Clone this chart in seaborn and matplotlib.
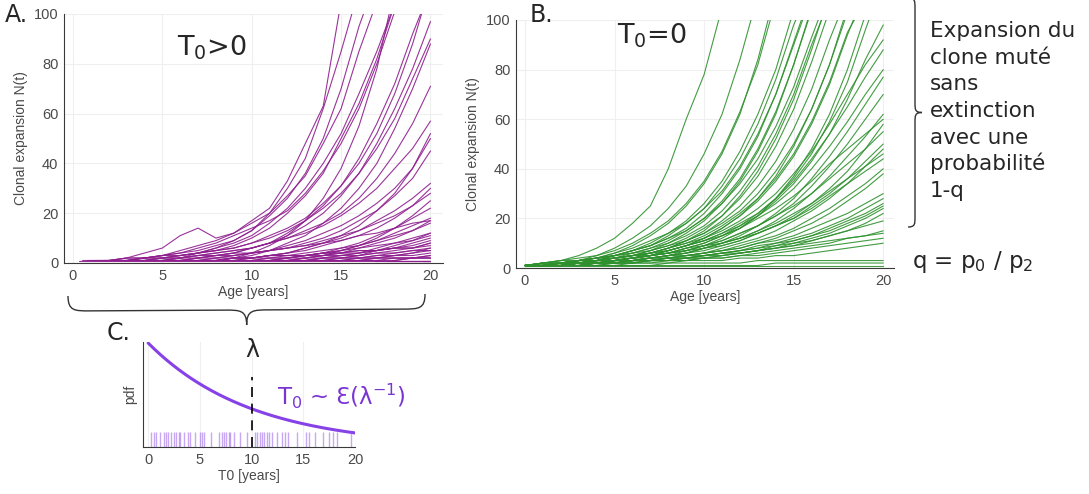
import numpy as np
import pandas as pd
import matplotlib
matplotlib.use("Agg")
import matplotlib.pyplot as plt
import seaborn as sns
from matplotlib.path import Path
from matplotlib.patches import PathPatch

# ---------------- data ----------------
# Panel A: mutation onset times T0 (years) and clone sizes at whole years after onset
a_t0 = [0.32, 0.54, 0.80, 1.12, 1.57, 1.76, 1.96, 2.21, 2.47, 2.73,
        2.95, 3.11, 3.43, 3.82, 4.08, 4.56, 5.04, 5.20, 5.43, 6.07,
        6.84, 7.10, 7.29, 7.55, 7.77, 7.94, 8.32, 8.90, 9.54, 10.35,
        10.57, 10.83, 10.99, 11.20, 11.47, 11.73, 11.95, 12.44, 12.92, 13.24,
        13.56, 14.37, 15.27, 15.59, 16.13, 16.87, 17.52, 17.90, 18.22, 19.60]

a_paths = [
    [1] * 20,
    [1, 1, 1, 2, 2, 3, 4, 5, 7, 10, 14, 20, 27, 36, 50, 64, 82, 104],
    [1, 1, 2, 2, 3, 4, 6, 8, 11, 14, 17, 21, 28, 37, 48, 62, 80, 101],
    [1, 2, 4, 6, 11, 14, 10, 12, 16, 20, 30, 42, 62, 85, 110],
    [1, 1, 2, 3, 4, 5, 7, 9, 13, 20, 27, 35, 48, 62, 85, 105],
    [1, 2, 2, 3, 3, 4, 5, 6, 8, 10, 13, 17, 22, 28, 36, 46, 58, 74, 90],
    [1, 1, 1, 2, 2, 3, 4, 5, 6, 8, 10, 12, 15, 19, 24, 30, 38, 46, 57],
    [1, 2, 3, 5, 7, 9, 12, 17, 22, 33, 48, 63, 105],
    [1, 1, 2, 2, 3, 3, 4, 4, 5, 6, 7, 8, 9, 11, 12, 14, 16, 17],
    [1, 2, 2, 3, 4, 5, 6, 8, 11, 14, 18, 24, 31, 40, 52, 68, 88, 112],
    [1, 1, 1, 2, 2, 3, 3, 4, 5, 6, 7, 9, 11, 13, 16, 19, 23, 28],
    [1, 2, 3, 4, 6, 8, 11, 16, 22, 30, 40, 52, 68, 85, 104],
    [1, 1, 2, 3, 4, 5, 6, 8, 10, 13, 16, 20, 26, 34, 44, 56, 71],
    [1, 1, 1, 1, 2, 2, 2, 3, 3, 3, 4, 4, 5, 5, 6, 6, 7],
    [1, 2, 4, 6, 9, 13, 19, 26, 36, 50, 70, 95, 115],
    [1, 1, 2, 2, 3, 4, 5, 6, 8, 10, 13, 17, 21, 27, 34, 45],
    [1, 2, 3, 4, 6, 8, 11, 15, 20, 27, 36, 48, 62, 78, 97],
    [1, 1, 1, 2, 2, 2, 3, 3, 4, 4, 5, 5, 6, 6, 8],
    [1, 2, 3, 4, 6, 8, 12, 17, 23, 31, 42, 56, 72, 92, 110],
    [1, 2, 3, 4, 5, 7, 9, 12, 15, 19, 24, 30, 38, 50],
    [1, 1, 2, 2, 3, 3, 4, 5, 6, 7, 9, 11, 13, 16],
    [1, 2, 3, 5, 8, 11, 16, 22, 30, 40, 54, 70, 88],
    [1, 2, 4, 7, 11, 17, 26, 38, 55, 78, 110],
    [1, 1, 1, 2, 2, 3, 3, 4, 4, 5, 6, 7, 9],
    [1, 1, 2, 3, 4, 5, 7, 9, 11, 14, 18, 23, 30],
    [1, 2, 2, 3, 4, 6, 8, 10, 13, 17, 21, 26, 32],
    [1, 1, 2, 2, 3, 4, 5, 6, 7, 8, 10, 12],
    [1, 2, 3, 4, 6, 8, 11, 15, 21, 28, 38, 52],
    [1, 1, 2, 2, 3, 3, 4, 5, 6, 8, 10],
    [1, 2, 3, 4, 6, 8, 11, 14, 18, 22],
    [1, 1, 2, 2, 3, 3, 4, 4, 5, 5],
    [1, 2, 3, 4, 5, 7, 9, 12, 15, 18],
    [1, 1, 1, 2, 2, 2, 3, 3, 3, 4],
    [1, 2, 3, 4, 6, 8, 10, 13, 17],
    [1, 1, 2, 2, 3, 4, 5, 6, 8],
    [1, 2, 3, 5, 7, 10, 14, 19, 25],
    [1, 1, 1, 1, 2, 2, 2, 2, 3],
    [1, 2, 3, 4, 6, 8, 9, 11],
    [1, 1, 2, 2, 3, 4, 5, 6],
    [1, 2, 3, 5, 7, 9, 12],
    [1, 1, 1, 2, 2, 2, 2],
    [1, 2, 2, 3, 4, 5],
    [1, 1, 2, 2, 3],
    [1, 2, 3, 4, 6],
    [1, 1, 2, 2],
    [1, 1, 1, 1],
    [1, 1, 1],
    [1, 2, 2],
    [1, 1],
    [1],
]

# Panel B: clones all founded at T0 = 0, sizes at years 1..20
b_paths = [
    [2, 3, 5, 8, 12, 18, 25, 40, 60, 78, 105],
    [1, 2, 3, 5, 8, 12, 17, 24, 33, 46, 62, 84, 110],
    [1, 2, 3, 4, 6, 9, 13, 18, 25, 34, 46, 62, 84, 112],
    [2, 3, 4, 5, 7, 10, 14, 19, 26, 35, 47, 63, 82, 108],
    [1, 1, 2, 3, 5, 7, 10, 14, 19, 26, 35, 47, 62, 80, 104],
    [1, 2, 3, 4, 5, 7, 9, 13, 18, 24, 33, 44, 58, 76, 98, 115],
    [1, 2, 2, 3, 5, 7, 9, 12, 16, 22, 30, 40, 53, 70, 91, 112],
    [2, 2, 3, 4, 6, 8, 11, 14, 18, 24, 31, 41, 54, 70, 90, 110],
    [1, 1, 2, 3, 4, 5, 7, 10, 14, 19, 26, 35, 47, 62, 82, 104],
    [1, 2, 3, 4, 5, 6, 8, 11, 15, 20, 27, 36, 48, 63, 82, 105],
    [1, 2, 2, 3, 4, 6, 8, 10, 13, 17, 23, 31, 41, 54, 70, 90, 108],
    [1, 1, 2, 2, 3, 4, 6, 8, 11, 15, 21, 29, 39, 52, 68, 88, 110],
    [2, 3, 3, 4, 5, 7, 9, 12, 15, 20, 26, 34, 44, 57, 73, 93, 112],
    [1, 2, 3, 3, 4, 5, 7, 9, 12, 16, 21, 28, 37, 49, 64, 83, 104],
    [1, 1, 2, 3, 3, 4, 5, 7, 9, 12, 16, 21, 28, 37, 49, 64, 82, 105],
    [1, 2, 2, 3, 4, 5, 6, 8, 11, 14, 19, 25, 33, 43, 56, 72, 92, 110],
    [1, 2, 3, 4, 5, 6, 7, 9, 11, 14, 18, 23, 30, 39, 50, 64, 82, 103],
    [1, 1, 2, 2, 3, 4, 5, 7, 9, 12, 16, 21, 27, 35, 45, 58, 74, 94, 112],
    [2, 2, 3, 4, 4, 5, 6, 8, 10, 13, 17, 22, 28, 36, 46, 59, 75, 95, 108],
    [1, 1, 1, 2, 2, 3, 4, 5, 7, 9, 12, 16, 21, 28, 37, 48, 62, 80, 102],
    [1, 2, 2, 3, 3, 4, 5, 6, 8, 10, 13, 17, 22, 28, 36, 46, 59, 75, 96, 116],
    [1, 1, 2, 2, 3, 4, 5, 6, 8, 10, 13, 16, 21, 27, 34, 43, 54, 68, 84, 98],
    [1, 2, 2, 3, 4, 5, 6, 8, 10, 12, 15, 19, 24, 30, 38, 47, 58, 70, 82, 92],
    [1, 1, 2, 3, 3, 4, 5, 7, 9, 11, 14, 18, 22, 28, 35, 44, 54, 65, 77, 88],
    [2, 2, 3, 3, 4, 5, 6, 7, 9, 11, 14, 17, 21, 26, 32, 40, 49, 59, 70, 80],
    [1, 1, 1, 2, 2, 3, 4, 5, 6, 8, 10, 13, 17, 22, 28, 36, 45, 55, 66, 77],
    [1, 2, 2, 3, 3, 4, 5, 6, 7, 9, 11, 14, 17, 21, 26, 33, 41, 50, 60, 70],
    [1, 1, 2, 2, 3, 3, 4, 5, 6, 8, 10, 12, 15, 19, 24, 30, 37, 45, 53, 62],
    [1, 2, 3, 3, 4, 5, 6, 7, 9, 11, 13, 16, 20, 24, 29, 35, 42, 48, 54, 60],
    [1, 1, 2, 2, 2, 3, 4, 5, 6, 7, 9, 11, 14, 17, 21, 26, 32, 39, 48, 58],
    [1, 2, 2, 3, 4, 4, 5, 6, 8, 9, 11, 14, 17, 21, 25, 30, 36, 42, 48, 55],
    [1, 1, 2, 2, 3, 4, 4, 5, 6, 8, 9, 11, 14, 17, 20, 25, 30, 36, 43, 50],
    [1, 1, 1, 2, 2, 3, 3, 4, 5, 6, 8, 10, 12, 15, 19, 23, 28, 34, 41, 48],
    [2, 2, 3, 3, 4, 5, 5, 6, 7, 9, 10, 12, 15, 18, 22, 26, 31, 36, 41, 46],
    [1, 2, 2, 3, 3, 4, 5, 6, 7, 8, 10, 12, 14, 17, 20, 24, 29, 34, 39, 44],
    [1, 1, 2, 2, 3, 3, 4, 4, 5, 6, 7, 9, 11, 13, 16, 20, 24, 29, 34, 40],
    [1, 1, 1, 2, 2, 3, 3, 4, 5, 6, 7, 8, 10, 12, 15, 18, 22, 27, 32, 38],
    [1, 2, 2, 3, 3, 3, 4, 5, 5, 6, 7, 8, 10, 11, 13, 16, 19, 22, 26, 30],
    [1, 1, 2, 2, 2, 3, 3, 4, 4, 5, 6, 7, 9, 10, 12, 14, 17, 20, 24, 28],
    [1, 1, 1, 1, 2, 2, 3, 3, 4, 5, 6, 7, 8, 10, 11, 13, 16, 19, 22, 26],
    [1, 2, 2, 2, 3, 3, 4, 4, 5, 5, 6, 7, 8, 9, 11, 13, 15, 18, 21, 25],
    [1, 1, 2, 2, 3, 3, 3, 4, 4, 5, 6, 6, 7, 9, 10, 12, 14, 17, 20, 24],
    [1, 1, 1, 2, 2, 2, 3, 3, 4, 4, 5, 6, 7, 8, 9, 11, 13, 15, 18, 22],
    [1, 1, 2, 2, 2, 3, 3, 3, 4, 4, 5, 6, 7, 8, 10, 11, 13, 15, 17, 19],
    [1, 1, 1, 1, 2, 2, 2, 3, 3, 4, 4, 5, 6, 7, 8, 9, 10, 12, 13, 15],
    [1, 2, 2, 2, 3, 3, 3, 4, 4, 5, 5, 6, 7, 8, 9, 10, 11, 12, 13, 14],
    [1, 1, 1, 2, 2, 2, 3, 3, 3, 4, 4, 5, 5, 6, 7, 8, 9, 10, 11, 12],
    [1, 1, 1, 1, 1, 2, 2, 2, 3, 3, 3, 4, 4, 5, 5, 6, 7, 8, 9, 10],
    [1, 1, 1, 1, 1, 1, 1, 2, 2, 2, 2, 2, 3, 3, 3, 3, 3, 3, 3, 3],
    [1, 1, 1, 1, 1, 1, 1, 1, 1, 1, 1, 1, 1, 2, 2, 2, 2, 2, 2, 2],
    [1, 1, 1, 1, 1, 1, 1, 1, 1, 1, 1, 1, 1, 1, 1, 1, 1, 1, 1, 1],
]

# Panel C: exponential law of the onset time, mean lambda (years)
lam = 10.0
age_ticks = [0, 5, 10, 15, 20]
n_ticks = [0, 20, 40, 60, 80, 100]

# ---------------- helpers ----------------
def a_frame():
    rows = []
    for k, (t0, vals) in enumerate(zip(a_t0, a_paths)):
        first = int(np.ceil(t0))
        ts = [t0] + list(range(first, first + len(vals)))
        ns = [1] + list(vals)
        rows += [(k, t, n) for t, n in zip(ts, ns)]
    return pd.DataFrame(rows, columns=["path", "age", "n"])


def b_frame():
    rows = []
    for k, vals in enumerate(b_paths):
        ts = list(range(0, len(vals) + 1))
        ns = [1] + list(vals)
        rows += [(k, t, n) for t, n in zip(ts, ns)]
    return pd.DataFrame(rows, columns=["path", "age", "n"])


W, H = 1089, 494


def fx(x):
    return x / W


def fy(y):
    return 1 - y / H


def brace(fig, p0, p1, w, r, color="#333333", lw=1.0):
    """Curly brace from p0 to p1 (pixels); the tip sits w pixels off the chord."""
    p0 = np.array(p0, float)
    p1 = np.array(p1, float)
    d = p1 - p0
    L = np.hypot(*d)
    u = d / L
    v = np.array([u[1], -u[0]])
    h = L / 2

    def P(a, b):
        q = p0 + a * u + b * v
        return (fx(q[0]), fy(q[1]))

    verts = [P(0, 0),
             P(0, w / 2), P(r * 0.3, w / 2), P(r, w / 2),
             P(h - r, w / 2),
             P(h - r * 0.3, w / 2), P(h, w / 2), P(h, w),
             P(h, w / 2), P(h + r * 0.3, w / 2), P(h + r, w / 2),
             P(L - r, w / 2),
             P(L - r * 0.3, w / 2), P(L, w / 2), P(L, 0)]
    codes = ([Path.MOVETO] + [Path.CURVE4] * 3 + [Path.LINETO] +
             [Path.CURVE4] * 3 + [Path.CURVE4] * 3 + [Path.LINETO] +
             [Path.CURVE4] * 3)
    patch = PathPatch(Path(verts, codes), fill=False, edgecolor=color,
                      lw=lw, transform=fig.transFigure, clip_on=False)
    fig.patches.append(patch)


# ---------------- style ----------------
sns.set_theme(style="whitegrid", rc={
    "grid.color": "#efefef",
    "grid.linewidth": 0.8,
    "axes.edgecolor": "#3a3a3a",
    "axes.linewidth": 0.8,
    "xtick.color": "#3a3a3a",
    "ytick.color": "#3a3a3a",
    "xtick.labelcolor": "#4a4a4a",
    "ytick.labelcolor": "#4a4a4a",
    "axes.labelcolor": "#4a4a4a",
})
plt.rcParams["font.family"] = ["DejaVu Sans"]
axis_font = "Liberation Sans"

fig = plt.figure(figsize=(W / 100, H / 100), dpi=100)


def style_axis(ax, xlim, ylim, xticks, yticks, xlabel, ylabel, tick_fs=10.5, label_fs=10):
    ax.set_xlim(*xlim)
    ax.set_ylim(*ylim)
    ax.set_xticks(xticks)
    ax.set_yticks(yticks)
    for s in ("top", "right"):
        ax.spines[s].set_visible(False)
    ax.tick_params(direction="in", length=4, width=0.8, pad=4,
                   labelsize=tick_fs)
    for lab in ax.get_xticklabels() + ax.get_yticklabels():
        lab.set_fontfamily(axis_font)
    ax.set_xlabel(xlabel, fontsize=label_fs, family=axis_font, labelpad=2)
    ax.set_ylabel(ylabel, fontsize=label_fs, family=axis_font, labelpad=4)


# Panel A
axA = fig.add_axes([fx(64), fy(263), fx(443 - 64), (263 - 14) / H])
sns.lineplot(data=a_frame(), x="age", y="n", units="path", estimator=None,
             color="#8e1e8e", lw=0.8, alpha=0.9, legend=False, ax=axA)
style_axis(axA, (-0.5, 20.7), (0, 100), age_ticks, n_ticks,
           "Age [years]", "Clonal expansion N(t)")

# Panel B
axB = fig.add_axes([fx(516), fy(268), fx(894 - 516), (268 - 20) / H])
sns.lineplot(data=b_frame(), x="age", y="n", units="path", estimator=None,
             color="#2e912e", lw=0.8, alpha=0.9, legend=False, ax=axB)
style_axis(axB, (-0.5, 20.6), (0, 100), age_ticks, n_ticks,
           "Age [years]", "Clonal expansion N(t)")

# Panel C
axC = fig.add_axes([fx(143), fy(447), fx(355 - 143), (447 - 342) / H])
pdf_x = np.linspace(0, 20, 201)
pdf_y = np.exp(-pdf_x / lam) / lam
sns.lineplot(x=pdf_x, y=pdf_y, color="#8642e6", lw=2.2, ax=axC)
sns.rugplot(x=a_t0, height=0.14, color="#9a62e8", alpha=0.55, lw=1.3, ax=axC)
axC.plot([lam, lam], [0, 0.067], color="black", lw=1.2, ls=(0, (6, 4)))
style_axis(axC, (-0.5, 20), (0, 0.101), age_ticks, [],
           "T0 [years]", "pdf", tick_fs=10.5, label_fs=10)
axC.grid(axis="y", visible=False)

# ---------------- annotations ----------------
fig.text(fx(5), fy(22), "A.", fontsize=17, va="baseline")
fig.text(fx(530), fy(22), "B.", fontsize=17, va="baseline")
fig.text(fx(107), fy(340), "C.", fontsize=17, va="baseline")

fig.text(fx(177), fy(55), r"T$_0$>0", fontsize=19.5, va="baseline")
fig.text(fx(617), fy(43), r"T$_0$=0", fontsize=19.5, va="baseline")

side_lines = ["Expansion du", "clone muté", "sans", "extinction",
              "avec une", "probabilité", "1-q"]
for i, line in enumerate(side_lines):
    fig.text(fx(930), fy(37 + i * 26.7), line, fontsize=15.5, va="baseline")

fig.text(fx(912), fy(268), r"q = p$_0$ / p$_2$", fontsize=16.5, va="baseline")

fig.text(fx(252), fy(357), "λ", fontsize=17, ha="center", va="baseline")
fig.text(fx(277), fy(405), r"T$_0$ ~ Ɛ(λ$^{\mathregular{-1}}$)", fontsize=16.5,
         color="#7a34d4", va="baseline")

# braces
brace(fig, (908, -2), (908, 227), w=14, r=10)
brace(fig, (425, 294), (68, 296), w=30, r=22)

fig.savefig("out.png", dpi=100)
